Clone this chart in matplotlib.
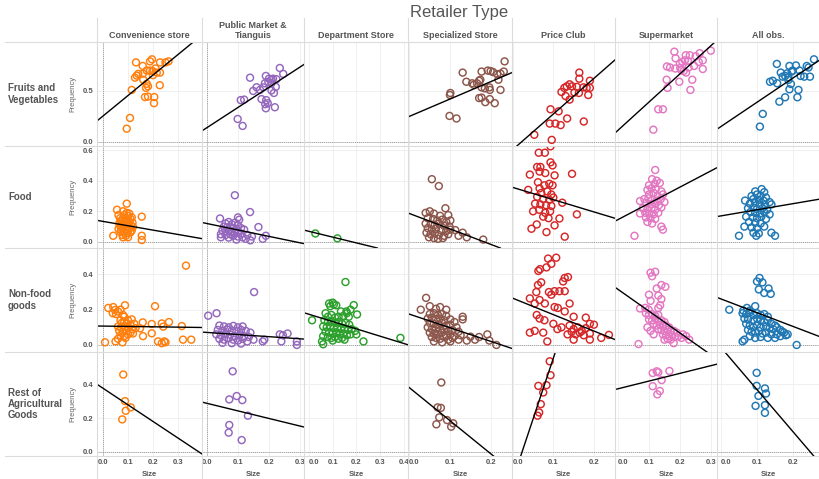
import numpy as np
import matplotlib
matplotlib.use("Agg")
import matplotlib.pyplot as plt
from matplotlib.lines import Line2D

plt.rcParams["font.family"] = ["Liberation Sans", "DejaVu Sans"]

stores = ["Convenience store", "Public Market &\nTianguis", "Department Store",
          "Specialized Store", "Price Club", "Supermarket", "All obs."]
goods = ["Fruits and\nVegetables", "Food", "Non-food\ngoods", "Rest of\nAgricultural\nGoods"]
colors = ["#ff7f0e", "#9467bd", "#2ca02c", "#8c564b", "#d62728", "#e377c2", "#1f77b4"]

# x ticks per store column, y ticks per goods row
x_ticks = [[0, .1, .2, .3], [0, .1, .2, .3], [0, .1, .2, .3, .4], [0, .1, .2],
           [0, .1, .2], [0, .1, .2, .3], [0, .1, .2]]
y_ticks = [[0, .5], [0, .2, .4, .6], [0, .2, .4], [0, .2, .4]]
x_lims = [(-0.024, 0.396), (-0.016, 0.313), (-0.021, 0.418), (-0.003, 0.25),
          (-0.002, 0.252), (-0.01, 0.32), (-0.011, 0.272)]
y_lims = [(-0.04, 0.98), (-0.04, 0.627), (-0.04, 0.55), (-0.024, 0.59)]

# (size, frequency) points -- Fruits and Vegetables
cs_fv = [(0.132, 0.78), (0.159, 0.745), (0.188, 0.79), (0.196, 0.81), (0.228, 0.78), (0.25, 0.78),
         (0.262, 0.79), (0.141, 0.667), (0.128, 0.63), (0.135, 0.65), (0.175, 0.70), (0.188, 0.70),
         (0.198, 0.695), (0.21, 0.72), (0.215, 0.68), (0.228, 0.68), (0.161, 0.61), (0.175, 0.57),
         (0.172, 0.53), (0.18, 0.545), (0.115, 0.51), (0.227, 0.556), (0.168, 0.44), (0.18, 0.445),
         (0.205, 0.44), (0.204, 0.38), (0.108, 0.235), (0.095, 0.13), (0.16, 0.67), (0.2, 0.655)]
pm_fv = [(0.139, 0.63), (0.235, 0.725), (0.246, 0.667), (0.19, 0.647), (0.2, 0.62), (0.208, 0.61),
         (0.213, 0.62), (0.224, 0.615), (0.187, 0.575), (0.198, 0.59), (0.208, 0.575), (0.16, 0.536),
         (0.149, 0.50), (0.171, 0.51), (0.182, 0.535), (0.222, 0.54), (0.216, 0.48), (0.208, 0.505),
         (0.109, 0.41), (0.12, 0.415), (0.176, 0.42), (0.191, 0.41), (0.196, 0.38), (0.188, 0.37),
         (0.219, 0.34), (0.19, 0.33), (0.099, 0.225), (0.115, 0.157)]
ss_fv = [(0.232, 0.79), (0.13, 0.68), (0.176, 0.69), (0.191, 0.70), (0.198, 0.695), (0.204, 0.685),
         (0.214, 0.665), (0.222, 0.67), (0.23, 0.69), (0.139, 0.59), (0.153, 0.575), (0.157, 0.56),
         (0.165, 0.575), (0.17, 0.6), (0.173, 0.61), (0.217, 0.61), (0.176, 0.535), (0.184, 0.525),
         (0.195, 0.535), (0.196, 0.51), (0.222, 0.51), (0.1, 0.48), (0.099, 0.46), (0.17, 0.43),
         (0.176, 0.435), (0.196, 0.42), (0.185, 0.39), (0.208, 0.38), (0.098, 0.255), (0.115, 0.23)]
pc_fv = [(0.164, 0.68), (0.164, 0.62), (0.19, 0.60), (0.19, 0.53), (0.186, 0.46), (0.14, 0.565),
         (0.133, 0.545), (0.127, 0.53), (0.146, 0.545), (0.158, 0.54), (0.174, 0.535), (0.182, 0.53),
         (0.12, 0.49), (0.13, 0.45), (0.14, 0.415), (0.152, 0.485), (0.163, 0.48), (0.093, 0.32),
         (0.113, 0.30), (0.134, 0.23), (0.175, 0.2), (0.091, 0.18), (0.105, 0.18), (0.118, 0.165),
         (0.053, 0.07), (0.096, 0.02)]
sm_fv = [(0.182, 0.885), (0.30, 0.895), (0.219, 0.85), (0.232, 0.85), (0.251, 0.84), (0.264, 0.87),
         (0.186, 0.82), (0.2, 0.77), (0.208, 0.785), (0.216, 0.8), (0.226, 0.795), (0.274, 0.8),
         (0.261, 0.785), (0.158, 0.74), (0.168, 0.73), (0.185, 0.72), (0.201, 0.725), (0.228, 0.73),
         (0.246, 0.745), (0.274, 0.715), (0.212, 0.695), (0.22, 0.68), (0.204, 0.705), (0.157, 0.61),
         (0.24, 0.61), (0.198, 0.59), (0.16, 0.53), (0.234, 0.51), (0.13, 0.32), (0.145, 0.32),
         (0.114, 0.12)]
ao_fv = [(0.155, 0.765), (0.258, 0.81), (0.19, 0.745), (0.208, 0.75), (0.238, 0.745), (0.243, 0.73),
         (0.199, 0.70), (0.218, 0.70), (0.166, 0.68), (0.171, 0.64), (0.178, 0.647), (0.187, 0.634),
         (0.184, 0.673), (0.196, 0.69), (0.231, 0.64), (0.247, 0.64), (0.221, 0.647), (0.136, 0.59),
         (0.144, 0.6), (0.156, 0.575), (0.187, 0.608), (0.194, 0.568), (0.19, 0.516), (0.215, 0.51),
         (0.212, 0.438), (0.178, 0.438), (0.162, 0.395), (0.116, 0.275), (0.108, 0.15)]

# Food
cs_fd = [(0.095, 0.25), (0.056, 0.21), (0.08, 0.2), (0.095, 0.19), (0.105, 0.185), (0.062, 0.175),
         (0.085, 0.175), (0.1, 0.17), (0.115, 0.16), (0.155, 0.165), (0.068, 0.155), (0.078, 0.15),
         (0.09, 0.155), (0.1, 0.145), (0.11, 0.15), (0.072, 0.135), (0.082, 0.13), (0.092, 0.135),
         (0.105, 0.13), (0.118, 0.125), (0.065, 0.12), (0.075, 0.115), (0.088, 0.11), (0.098, 0.115),
         (0.112, 0.108), (0.07, 0.1), (0.08, 0.095), (0.094, 0.098), (0.108, 0.092), (0.12, 0.098),
         (0.062, 0.085), (0.076, 0.08), (0.09, 0.082), (0.102, 0.078), (0.115, 0.075), (0.07, 0.065),
         (0.085, 0.06), (0.098, 0.058), (0.11, 0.062), (0.078, 0.045), (0.092, 0.04), (0.041, 0.04),
         (0.08, 0.03), (0.155, 0.04), (0.155, 0.012), (0.1, 0.03)]
pm_fd = [(0.09, 0.305), (0.139, 0.195), (0.1, 0.16), (0.104, 0.145), (0.042, 0.153), (0.166, 0.097),
         (0.19, 0.04), (0.18, 0.02), (0.14, 0.01), (0.06, 0.12), (0.07, 0.13), (0.08, 0.115),
         (0.09, 0.125), (0.1, 0.11), (0.055, 0.1), (0.065, 0.095), (0.075, 0.1), (0.085, 0.09),
         (0.095, 0.085), (0.11, 0.09), (0.12, 0.08), (0.05, 0.075), (0.06, 0.07), (0.07, 0.078),
         (0.08, 0.068), (0.09, 0.06), (0.1, 0.065), (0.11, 0.055), (0.045, 0.05), (0.06, 0.045),
         (0.075, 0.05), (0.085, 0.04), (0.1, 0.035), (0.115, 0.03), (0.13, 0.045), (0.045, 0.03),
         (0.07, 0.028), (0.095, 0.015), (0.125, 0.02), (0.145, 0.035)]
ds_fd = [(0.027, 0.055), (0.12, 0.023)]
ss_fd = [(0.055, 0.41), (0.072, 0.365), (0.088, 0.22), (0.04, 0.19), (0.05, 0.2), (0.06, 0.185),
         (0.075, 0.17), (0.095, 0.175), (0.045, 0.155), (0.058, 0.15), (0.068, 0.14), (0.08, 0.145),
         (0.09, 0.13), (0.1, 0.14), (0.04, 0.12), (0.052, 0.115), (0.062, 0.11), (0.072, 0.12),
         (0.085, 0.105), (0.098, 0.1), (0.045, 0.09), (0.055, 0.08), (0.065, 0.085), (0.078, 0.075),
         (0.09, 0.07), (0.1, 0.08), (0.042, 0.06), (0.052, 0.05), (0.062, 0.055), (0.072, 0.045),
         (0.085, 0.04), (0.095, 0.05), (0.048, 0.03), (0.06, 0.025), (0.07, 0.02), (0.082, 0.025),
         (0.112, 0.077), (0.13, 0.06), (0.14, 0.03), (0.18, 0.015), (0.12, 0.04)]
pc_fd = [(0.064, 0.583), (0.079, 0.583), (0.093, 0.625), (0.06, 0.49), (0.068, 0.49), (0.066, 0.46),
         (0.08, 0.45), (0.093, 0.52), (0.098, 0.5), (0.103, 0.435), (0.146, 0.445), (0.042, 0.44),
         (0.038, 0.34), (0.062, 0.39), (0.066, 0.35), (0.078, 0.37), (0.09, 0.38), (0.098, 0.37),
         (0.07, 0.32), (0.085, 0.33), (0.095, 0.31), (0.06, 0.295), (0.075, 0.28), (0.09, 0.275),
         (0.1, 0.29), (0.055, 0.25), (0.068, 0.245), (0.082, 0.24), (0.095, 0.235), (0.122, 0.256),
         (0.05, 0.2), (0.065, 0.21), (0.08, 0.19), (0.092, 0.2), (0.075, 0.165), (0.088, 0.155),
         (0.158, 0.18), (0.115, 0.153), (0.046, 0.086), (0.059, 0.114), (0.083, 0.064), (0.103, 0.108),
         (0.128, 0.034)]
sm_fd = [(0.12, 0.47), (0.11, 0.41), (0.125, 0.40), (0.1, 0.37), (0.118, 0.38), (0.135, 0.385),
         (0.095, 0.34), (0.108, 0.35), (0.122, 0.345), (0.14, 0.33), (0.1, 0.31), (0.115, 0.32),
         (0.128, 0.3), (0.145, 0.31), (0.085, 0.28), (0.098, 0.285), (0.11, 0.275), (0.125, 0.27),
         (0.138, 0.28), (0.071, 0.267), (0.09, 0.255), (0.105, 0.245), (0.118, 0.25), (0.132, 0.24),
         (0.15, 0.26), (0.08, 0.22), (0.095, 0.215), (0.108, 0.22), (0.12, 0.21), (0.14, 0.225),
         (0.071, 0.186), (0.088, 0.19), (0.1, 0.185), (0.115, 0.18), (0.13, 0.19), (0.09, 0.16),
         (0.105, 0.155), (0.12, 0.15), (0.095, 0.13), (0.11, 0.12), (0.053, 0.04), (0.14, 0.1),
         (0.145, 0.08)]
ao_fd = [(0.113, 0.345), (0.095, 0.33), (0.12, 0.325), (0.067, 0.27), (0.085, 0.3), (0.1, 0.31),
         (0.11, 0.3), (0.125, 0.29), (0.09, 0.28), (0.105, 0.275), (0.118, 0.27), (0.135, 0.26),
         (0.08, 0.25), (0.095, 0.255), (0.108, 0.245), (0.122, 0.24), (0.14, 0.245), (0.075, 0.22),
         (0.09, 0.225), (0.1, 0.215), (0.115, 0.22), (0.128, 0.21), (0.082, 0.195), (0.095, 0.19),
         (0.108, 0.185), (0.12, 0.195), (0.135, 0.18), (0.07, 0.165), (0.088, 0.16), (0.1, 0.155),
         (0.112, 0.165), (0.125, 0.15), (0.078, 0.13), (0.095, 0.125), (0.11, 0.12), (0.065, 0.1),
         (0.085, 0.095), (0.1, 0.09), (0.12, 0.1), (0.09, 0.06), (0.105, 0.055), (0.05, 0.04),
         (0.14, 0.06), (0.15, 0.04), (0.098, 0.04)]

# Non-food goods
cs_nf = [(0.332, 0.45), (0.208, 0.22), (0.088, 0.225), (0.021, 0.21), (0.041, 0.215), (0.048, 0.198),
         (0.039, 0.18), (0.06, 0.19), (0.07, 0.2), (0.052, 0.175), (0.08, 0.17), (0.085, 0.16),
         (0.1, 0.14), (0.115, 0.145), (0.07, 0.14), (0.085, 0.13), (0.075, 0.125), (0.095, 0.12),
         (0.11, 0.115), (0.125, 0.12), (0.159, 0.128), (0.06, 0.105), (0.072, 0.1), (0.088, 0.105),
         (0.1, 0.095), (0.115, 0.09), (0.148, 0.094), (0.065, 0.08), (0.08, 0.075), (0.095, 0.08),
         (0.11, 0.07), (0.07, 0.055), (0.085, 0.05), (0.1, 0.06), (0.06, 0.035), (0.09, 0.04),
         (0.008, 0.015), (0.05, 0.02), (0.078, 0.015), (0.195, 0.066), (0.16, 0.05), (0.195, 0.119),
         (0.235, 0.122), (0.241, 0.104), (0.264, 0.13), (0.315, 0.107), (0.22, 0.02), (0.235, 0.01),
         (0.25, 0.015), (0.245, 0.02), (0.32, 0.03), (0.353, 0.03), (0.13, 0.095), (0.12, 0.065)]
pm_nf = [(0.152, 0.30), (0.004, 0.166), (0.031, 0.18), (0.04, 0.11), (0.055, 0.105), (0.07, 0.1),
         (0.085, 0.108), (0.1, 0.1), (0.115, 0.105), (0.035, 0.085), (0.05, 0.08), (0.065, 0.088),
         (0.08, 0.082), (0.095, 0.078), (0.11, 0.085), (0.125, 0.08), (0.14, 0.07), (0.03, 0.06),
         (0.045, 0.055), (0.06, 0.062), (0.075, 0.058), (0.09, 0.05), (0.105, 0.055), (0.12, 0.05),
         (0.135, 0.045), (0.04, 0.035), (0.055, 0.03), (0.07, 0.038), (0.085, 0.03), (0.1, 0.025),
         (0.115, 0.035), (0.13, 0.02), (0.05, 0.012), (0.08, 0.01), (0.11, 0.008), (0.15, 0.03),
         (0.235, 0.06), (0.245, 0.055), (0.26, 0.065), (0.24, 0.02), (0.29, 0.02), (0.29, 0.0),
         (0.18, 0.02), (0.185, 0.03)]
ds_nf = [(0.154, 0.357), (0.085, 0.235), (0.1, 0.24), (0.105, 0.23), (0.115, 0.225), (0.09, 0.22),
         (0.013, 0.14), (0.06, 0.004), (0.386, 0.04), (0.175, 0.2), (0.16, 0.18), (0.135, 0.19),
         (0.145, 0.165), (0.23, 0.02), (0.07, 0.18), (0.08, 0.16), (0.095, 0.17), (0.11, 0.155),
         (0.125, 0.16), (0.065, 0.14), (0.08, 0.13), (0.095, 0.135), (0.11, 0.125), (0.125, 0.13),
         (0.14, 0.12), (0.155, 0.125), (0.17, 0.115), (0.06, 0.105), (0.075, 0.1), (0.09, 0.108),
         (0.105, 0.095), (0.12, 0.1), (0.135, 0.09), (0.15, 0.095), (0.165, 0.085), (0.18, 0.09),
         (0.195, 0.08), (0.07, 0.075), (0.085, 0.07), (0.1, 0.065), (0.115, 0.072), (0.13, 0.06),
         (0.145, 0.065), (0.16, 0.055), (0.175, 0.06), (0.08, 0.045), (0.095, 0.04), (0.11, 0.045),
         (0.125, 0.035), (0.14, 0.04), (0.06, 0.05), (0.2, 0.06), (0.1, 0.025), (0.15, 0.03),
         (0.055, 0.02), (0.203, 0.173), (0.189, 0.226), (0.158, 0.19), (0.168, 0.16)]
ss_nf = [(0.041, 0.267), (0.028, 0.2), (0.13, 0.16), (0.13, 0.145), (0.05, 0.22), (0.075, 0.215),
         (0.065, 0.205), (0.09, 0.2), (0.05, 0.175), (0.06, 0.18), (0.07, 0.17), (0.08, 0.175),
         (0.09, 0.165), (0.045, 0.15), (0.055, 0.155), (0.065, 0.145), (0.075, 0.15), (0.085, 0.14),
         (0.1, 0.145), (0.11, 0.13), (0.05, 0.125), (0.06, 0.12), (0.07, 0.115), (0.08, 0.125),
         (0.09, 0.11), (0.1, 0.115), (0.115, 0.1), (0.045, 0.1), (0.055, 0.09), (0.065, 0.095),
         (0.075, 0.085), (0.085, 0.09), (0.095, 0.08), (0.105, 0.085), (0.12, 0.075), (0.05, 0.07),
         (0.06, 0.065), (0.07, 0.06), (0.08, 0.07), (0.09, 0.055), (0.1, 0.06), (0.11, 0.05),
         (0.125, 0.055), (0.055, 0.045), (0.065, 0.04), (0.075, 0.035), (0.085, 0.045), (0.095, 0.03),
         (0.105, 0.04), (0.06, 0.02), (0.08, 0.015), (0.1, 0.02), (0.149, 0.047), (0.16, 0.03),
         (0.17, 0.045), (0.19, 0.06), (0.195, 0.025), (0.212, 0.0), (0.14, 0.025), (0.12, 0.03)]
pc_nf = [(0.087, 0.49), (0.107, 0.495), (0.063, 0.42), (0.067, 0.43), (0.083, 0.44), (0.095, 0.46),
         (0.128, 0.38), (0.136, 0.385), (0.124, 0.36), (0.07, 0.355), (0.058, 0.3), (0.062, 0.34),
         (0.089, 0.3), (0.095, 0.285), (0.103, 0.305), (0.115, 0.305), (0.128, 0.305), (0.14, 0.235),
         (0.042, 0.264), (0.054, 0.235), (0.066, 0.255), (0.079, 0.235), (0.103, 0.215), (0.111, 0.21),
         (0.128, 0.19), (0.15, 0.16), (0.18, 0.155), (0.059, 0.17), (0.066, 0.15), (0.078, 0.14),
         (0.042, 0.07), (0.054, 0.08), (0.075, 0.07), (0.14, 0.11), (0.15, 0.09), (0.16, 0.1),
         (0.17, 0.08), (0.18, 0.095), (0.145, 0.075), (0.155, 0.06), (0.165, 0.07), (0.175, 0.055),
         (0.19, 0.065), (0.135, 0.06), (0.19, 0.12), (0.2, 0.115), (0.237, 0.057), (0.15, 0.03),
         (0.19, 0.03), (0.218, 0.04), (0.085, 0.02), (0.1, 0.12), (0.11, 0.09), (0.12, 0.1)]
sm_nf = [(0.105, 0.41), (0.12, 0.415), (0.11, 0.39), (0.14, 0.34), (0.153, 0.33), (0.125, 0.32),
         (0.1, 0.285), (0.13, 0.28), (0.105, 0.25), (0.14, 0.26), (0.071, 0.207), (0.088, 0.21),
         (0.099, 0.2), (0.13, 0.21), (0.136, 0.225), (0.09, 0.18), (0.1, 0.17), (0.11, 0.175),
         (0.12, 0.165), (0.13, 0.17), (0.1, 0.145), (0.11, 0.14), (0.12, 0.15), (0.13, 0.135),
         (0.14, 0.14), (0.15, 0.13), (0.115, 0.12), (0.125, 0.11), (0.135, 0.115), (0.145, 0.105),
         (0.155, 0.11), (0.165, 0.1), (0.13, 0.09), (0.14, 0.085), (0.15, 0.08), (0.16, 0.085),
         (0.17, 0.075), (0.18, 0.08), (0.19, 0.07), (0.145, 0.06), (0.155, 0.055), (0.165, 0.05),
         (0.175, 0.055), (0.185, 0.045), (0.195, 0.05), (0.205, 0.04), (0.16, 0.035), (0.17, 0.03),
         (0.21, 0.06), (0.22, 0.05), (0.066, 0.005), (0.15, 0.03), (0.18, 0.01), (0.23, 0.03),
         (0.095, 0.1), (0.105, 0.08), (0.115, 0.06)]
ao_nf = [(0.107, 0.38), (0.1, 0.36), (0.115, 0.355), (0.132, 0.32), (0.105, 0.315), (0.12, 0.295),
         (0.138, 0.29), (0.023, 0.2), (0.062, 0.195), (0.072, 0.21), (0.08, 0.195), (0.095, 0.22),
         (0.06, 0.18), (0.07, 0.175), (0.08, 0.185), (0.09, 0.17), (0.1, 0.18), (0.11, 0.17),
         (0.12, 0.175), (0.13, 0.16), (0.065, 0.15), (0.075, 0.145), (0.09, 0.14), (0.1, 0.15),
         (0.11, 0.14), (0.12, 0.13), (0.13, 0.14), (0.14, 0.12), (0.15, 0.11), (0.07, 0.12),
         (0.08, 0.11), (0.09, 0.1), (0.1, 0.115), (0.11, 0.1), (0.125, 0.105), (0.135, 0.095),
         (0.145, 0.09), (0.155, 0.1), (0.165, 0.085), (0.17, 0.075), (0.075, 0.085), (0.085, 0.075),
         (0.095, 0.07), (0.105, 0.08), (0.115, 0.065), (0.125, 0.07), (0.14, 0.06), (0.155, 0.06),
         (0.165, 0.05), (0.18, 0.055), (0.175, 0.07), (0.08, 0.05), (0.095, 0.04), (0.11, 0.045),
         (0.13, 0.04), (0.06, 0.02), (0.065, 0.03), (0.21, 0.0), (0.15, 0.04), (0.185, 0.06)]

# Rest of Agricultural Goods
cs_ra = [(0.081, 0.457), (0.088, 0.3), (0.091, 0.243), (0.111, 0.263), (0.077, 0.192)]
pm_ra = [(0.083, 0.476), (0.072, 0.31), (0.096, 0.33), (0.114, 0.306), (0.132, 0.214),
         (0.072, 0.159), (0.07, 0.114), (0.112, 0.07)]
ss_ra = [(0.078, 0.41), (0.069, 0.263), (0.077, 0.26), (0.073, 0.204), (0.066, 0.163),
         (0.092, 0.188), (0.102, 0.149), (0.107, 0.169)]
pc_ra = [(0.091, 0.535), (0.093, 0.453), (0.063, 0.39), (0.083, 0.394), (0.075, 0.351),
         (0.069, 0.282), (0.065, 0.233), (0.061, 0.214)]
sm_ra = [(0.112, 0.466), (0.125, 0.476), (0.13, 0.47), (0.166, 0.478), (0.141, 0.424),
         (0.112, 0.388), (0.135, 0.36), (0.127, 0.34)]
ao_ra = [(0.099, 0.467), (0.099, 0.39), (0.122, 0.375), (0.125, 0.345), (0.104, 0.331),
         (0.096, 0.272), (0.122, 0.276), (0.122, 0.231)]

# regression lines (intercept, slope) per store, one list per goods row
fit_fv = [(0.254, 2.01), (0.14, 1.98), None, (0.25, 1.72), (-0.075, 3.49), (0.115, 2.76), (0.151, 2.38)]
fit_fd = [(0.134, -0.285), (0.12, -0.42), (0.069, -0.378), (0.186, -1.02), (0.356, -0.8), (0.146, 1.06), (0.17, 0.40)]
fit_nf = [(0.107, -0.02), (0.071, -0.12), (0.174, -0.414), (0.175, -0.78), (0.265, -0.93), (0.315, -1.235), (0.261, -0.78)]
fit_ra = [(0.376, -0.98), (0.287, -0.447), None, (0.38, -1.97), (-0.164, 7.18), (0.373, 0.454), (0.617, -2.49)]

panels = [[cs_fv, pm_fv, [], ss_fv, pc_fv, sm_fv, ao_fv],
          [cs_fd, pm_fd, ds_fd, ss_fd, pc_fd, sm_fd, ao_fd],
          [cs_nf, pm_nf, ds_nf, ss_nf, pc_nf, sm_nf, ao_nf],
          [cs_ra, pm_ra, [], ss_ra, pc_ra, sm_ra, ao_ra]]
fits = [fit_fv, fit_fd, fit_nf, fit_ra]

W, H = 819, 479
col_edges = [97, 202, 304, 408, 512, 615, 717, 819]
row_edges = [42, 146, 248, 352, 456]
txt = "#555555"
sep = "#dcdcdc"


def fx(px):
    return px / W


def fy(py):
    return 1 - py / H


fig = plt.figure(figsize=(W / 100, H / 100), dpi=100)

for r in range(4):
    for c in range(7):
        x0, x1 = col_edges[c], col_edges[c + 1]
        y0, y1 = row_edges[r], row_edges[r + 1]
        ax = fig.add_axes([fx(x0), fy(y1), (x1 - x0) / W, (y1 - y0) / H])
        ax.set_xlim(*x_lims[c])
        ax.set_ylim(*y_lims[r])
        for s in ax.spines.values():
            s.set_visible(False)
        ax.set_xticks(x_ticks[c])
        ax.set_yticks(y_ticks[r])
        ax.grid(color="#eeeeee", lw=0.6)
        ax.set_axisbelow(True)
        ax.tick_params(length=0, labelsize=5.5, labelcolor=txt, pad=2.5)
        ax.axhline(0, color="#999999", lw=0.7, ls=(0, (1, 1)), zorder=1)
        if c < 2:
            ax.axvline(0, color="#999999", lw=0.7, ls=(0, (1, 1)), zorder=1)

        pts = panels[r][c]
        if pts:
            xs, ys = zip(*pts)
            ax.scatter(xs, ys, s=25, facecolors="none", edgecolors=colors[c], linewidths=1.05, zorder=3)
        if fits[r][c] is not None:
            b0, b1 = fits[r][c]
            ax.axline((0, b0), slope=b1, color="black", lw=1.0, zorder=4)

        if c == 0:
            ax.set_yticklabels([f"{v:.1f}" for v in y_ticks[r]], fontweight="bold")
        else:
            ax.tick_params(labelleft=False)
        if r == 3:
            ax.set_xticklabels([f"{v:.1f}" for v in x_ticks[c]], fontweight="bold")
            if c >= 2:
                ax.get_xticklabels()[0].set_horizontalalignment("left")
        else:
            ax.tick_params(labelbottom=False)

# separators
for xe in col_edges[:-1]:
    fig.add_artist(Line2D([fx(xe), fx(xe)], [fy(18), 0], color=sep, lw=0.8))
for ye in row_edges:
    fig.add_artist(Line2D([fx(5), 1], [fy(ye), fy(ye)], color=sep, lw=0.8))

# titles and labels
fig.text(fx(459), fy(13), "Retailer Type", ha="center", va="center", fontsize=12, color=txt)
for c, name in enumerate(stores):
    xc = (col_edges[c] + col_edges[c + 1]) / 2
    fig.text(fx(xc), fy(40), name, ha="center", va="bottom", fontsize=6.5,
             fontweight="bold", color=txt, linespacing=1.1)
for r, name in enumerate(goods):
    yc = (row_edges[r] + row_edges[r + 1]) / 2
    fig.text(fx(8), fy(yc), name, ha="left", va="center", fontsize=7,
             fontweight="bold", color=txt, linespacing=1.15)
    fig.text(fx(73), fy(yc), "Frequency", ha="center", va="center", rotation=90,
             fontsize=5.5, color="#666666")
for c in range(7):
    xc = (col_edges[c] + col_edges[c + 1]) / 2
    fig.text(fx(xc), fy(474), "Size", ha="center", va="center", fontsize=5.5,
             fontweight="bold", color=txt)

fig.savefig("out.png", dpi=100, facecolor="white")
